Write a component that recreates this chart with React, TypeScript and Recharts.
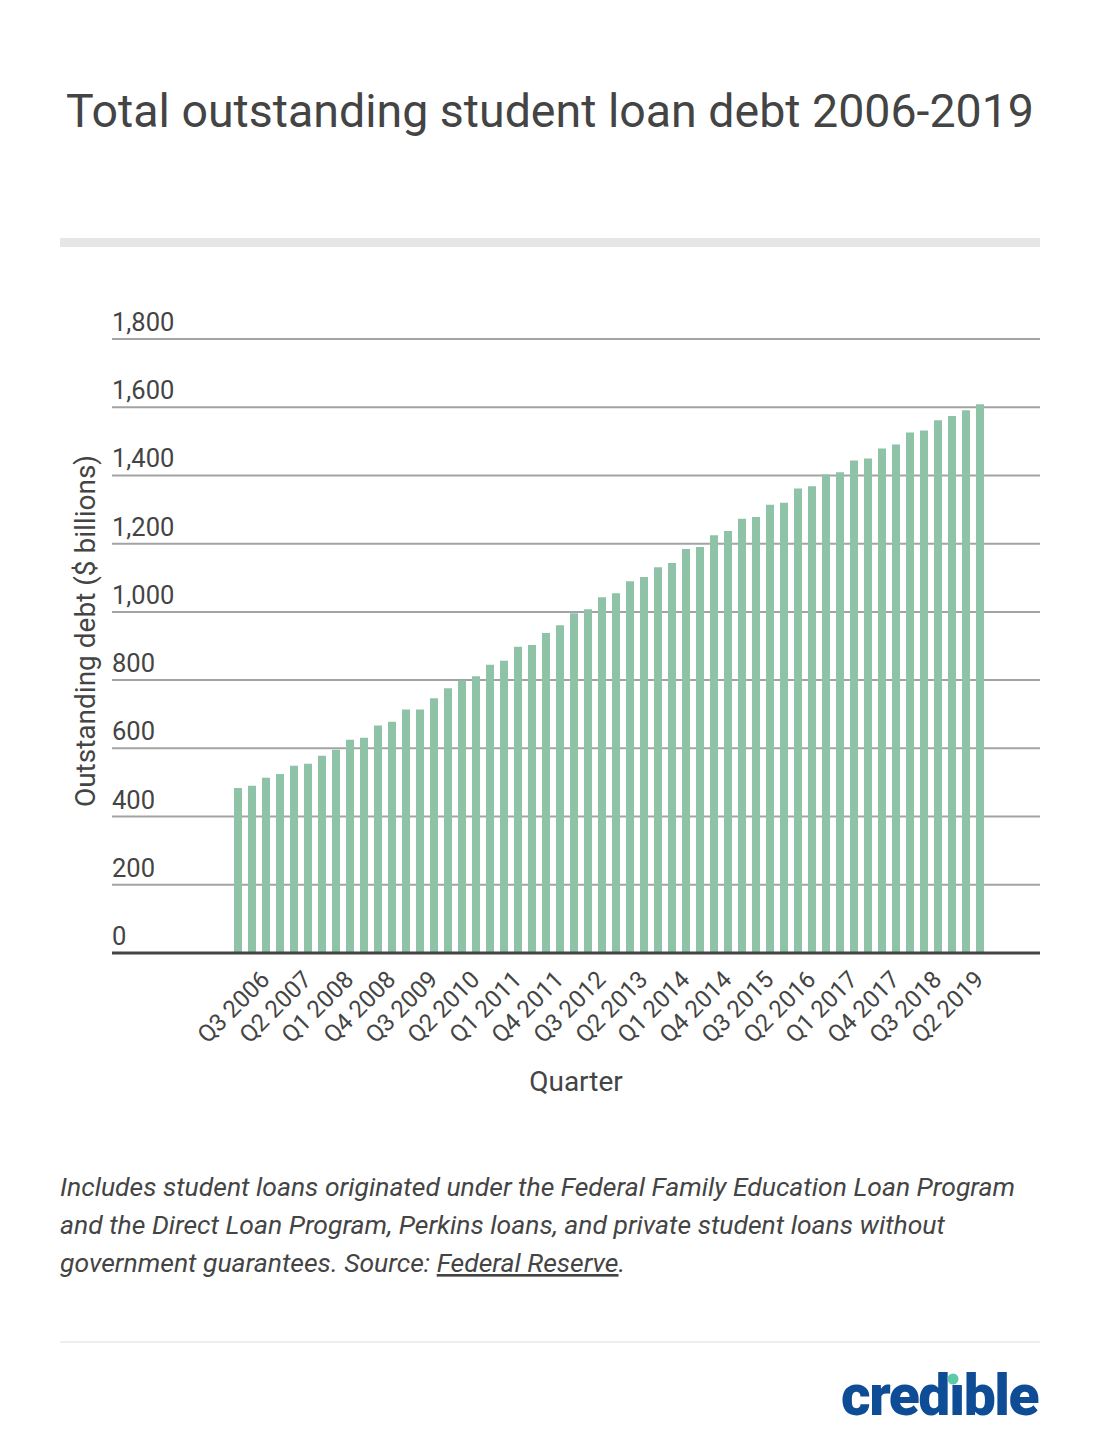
import React from "react";
import { Bar, BarChart, CartesianGrid, XAxis, YAxis } from "recharts";

// Student loan debt by quarter, $ billions.
const QUARTERS = [
  "Q1 2006", "Q2 2006", "Q3 2006", "Q4 2006",
  "Q1 2007", "Q2 2007", "Q3 2007", "Q4 2007",
  "Q1 2008", "Q2 2008", "Q3 2008", "Q4 2008",
  "Q1 2009", "Q2 2009", "Q3 2009", "Q4 2009",
  "Q1 2010", "Q2 2010", "Q3 2010", "Q4 2010",
  "Q1 2011", "Q2 2011", "Q3 2011", "Q4 2011",
  "Q1 2012", "Q2 2012", "Q3 2012", "Q4 2012",
  "Q1 2013", "Q2 2013", "Q3 2013", "Q4 2013",
  "Q1 2014", "Q2 2014", "Q3 2014", "Q4 2014",
  "Q1 2015", "Q2 2015", "Q3 2015", "Q4 2015",
  "Q1 2016", "Q2 2016", "Q3 2016", "Q4 2016",
  "Q1 2017", "Q2 2017", "Q3 2017", "Q4 2017",
  "Q1 2018", "Q2 2018", "Q3 2018", "Q4 2018",
  "Q1 2019", "Q2 2019",
];

const DEBT = [
  484, 490, 514, 525, 549, 555, 578, 596, 625, 631, 667, 678, 714, 714,
  747, 776, 799, 811, 845, 857, 898, 903, 938, 961, 996, 1008, 1043, 1055,
  1090, 1102, 1131, 1143, 1184, 1190, 1225, 1237, 1273, 1278, 1314, 1320,
  1362, 1368, 1403, 1409, 1444, 1450, 1479, 1491, 1526, 1532, 1562, 1574,
  1591, 1609,
];

const Y_TICKS = [0, 200, 400, 600, 800, 1000, 1200, 1400, 1600, 1800];

const data = QUARTERS.map((quarter, i) => ({ quarter, debt: DEBT[i] }));

const TEXT = "#444444";
const FONT = "Roboto, 'Noto Sans', sans-serif";

// every third quarter gets a slanted label, starting at Q3 2006
function QuarterTick(props: any) {
  const { x, y, index, payload } = props;
  if (index % 3 !== 2) return null;
  const tx = x + 5;
  const ty = y + 20;
  return (
    <text
      x={tx}
      y={ty}
      transform={`rotate(-45 ${tx} ${ty})`}
      textAnchor="end"
      fontSize={24}
      fontFamily={FONT}
      fill={TEXT}
    >
      {payload.value}
    </text>
  );
}

// value labels sit above the gridline, left aligned with the plot
function ValueTick(props: any) {
  const { x, y, payload } = props;
  return (
    <text x={x} y={y - 8} textAnchor="start" fontSize={25.5} fontFamily={FONT} fill={TEXT}>
      {Number(payload.value).toLocaleString("en-US")}
    </text>
  );
}

export default function App() {
  return (
    <div style={{ position: "absolute", left: 0, top: 0, width: 1100, height: 1450, background: "#fff" }}>
      <BarChart
        width={1100}
        height={1450}
        data={data}
        margin={{ top: 339, right: 60, bottom: 437, left: 111 }}
      >
        <CartesianGrid vertical={false} stroke="#a3a3a3" strokeWidth={2} />
        <XAxis
          dataKey="quarter"
          height={60}
          interval={0}
          tick={<QuarterTick />}
          tickLine={false}
          axisLine={{ stroke: "#444", strokeWidth: 3 }}
          padding={{ left: 119, right: 53 }}
        />
        <YAxis
          width={1}
          domain={[0, 1800]}
          ticks={Y_TICKS}
          interval={0}
          tick={<ValueTick />}
          tickSize={0}
          tickMargin={0}
          axisLine={false}
          tickLine={false}
        />
        <Bar dataKey="debt" fill="#8ec3a7" barSize={8} isAnimationActive={false} />
      </BarChart>

      <svg
        width={1100}
        height={1450}
        style={{ position: "absolute", left: 0, top: 0, pointerEvents: "none" }}
        fontFamily={FONT}
      >
        <text x={550} y={127} textAnchor="middle" fontSize={46.5} fill={TEXT}>
          Total outstanding student loan debt 2006-2019
        </text>
        <rect x={60} y={238} width={980} height={9} fill="#e6e6e6" />

        <text
          x={95}
          y={631}
          transform="rotate(-90 95 631)"
          textAnchor="middle"
          fontSize={28}
          fill={TEXT}
        >
          Outstanding debt ($ billions)
        </text>
        <text x={576} y={1091} textAnchor="middle" fontSize={28} fill={TEXT}>
          Quarter
        </text>

        <g fontSize={26.5} fontStyle="italic" fill={TEXT}>
          <text x={60} y={1196}>
            Includes student loans originated under the Federal Family Education Loan Program
          </text>
          <text x={60} y={1234}>
            and the Direct Loan Program, Perkins loans, and private student loans without
          </text>
          <text x={60} y={1272}>
            government guarantees. Source: <tspan textDecoration="underline">Federal Reserve</tspan>.
          </text>
        </g>

        <line x1={60} x2={1040} y1={1342} y2={1342} stroke="#dddddd" strokeWidth={1} />

        <text
          x={1038}
          y={1415}
          textAnchor="end"
          fontSize={57}
          fontWeight={900}
          letterSpacing={-1.5}
          fill="#0e4c96"
        >
          credıble
        </text>
        <circle cx={953} cy={1379} r={5.5} fill="#5cc9a7" />
      </svg>
    </div>
  );
}
